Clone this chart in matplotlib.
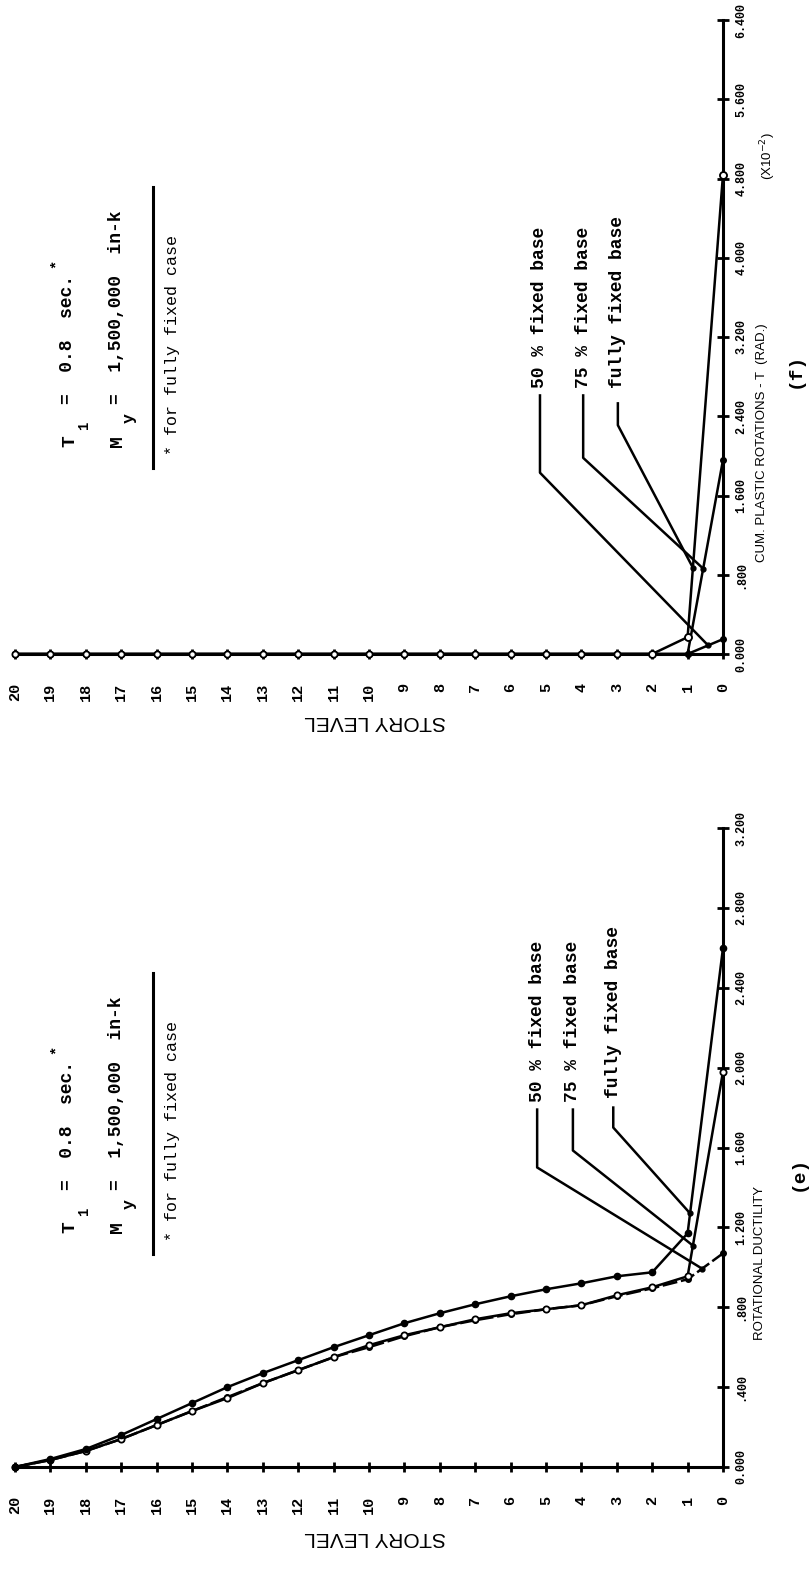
import numpy as np
import matplotlib
matplotlib.use("Agg")
import matplotlib.pyplot as plt

# ---------------- data ----------------
stories = list(range(20, -1, -1))  # 20 ... 0

# (e) rotational ductility
duct_fully = [0.00, 0.04, 0.09, 0.16, 0.24, 0.32, 0.40, 0.47, 0.535, 0.60, 0.66,
              0.72, 0.77, 0.815, 0.855, 0.89, 0.92, 0.955, 0.975, 1.17, 2.60]
duct_75 = [0.00, 0.035, 0.08, 0.14, 0.21, 0.28, 0.345, 0.42, 0.485, 0.55, 0.61,
           0.66, 0.70, 0.74, 0.77, 0.79, 0.81, 0.86, 0.90, 0.955, 1.98]
duct_50 = [0.00, 0.035, 0.08, 0.14, 0.21, 0.28, 0.35, 0.42, 0.485, 0.55, 0.60,
           0.655, 0.70, 0.735, 0.765, 0.79, 0.81, 0.855, 0.895, 0.94, 1.07]

# (f) cumulative plastic rotations (x10^-2 rad)
rot_fully = [0.0] * 19 + [0.17, 4.84]
rot_75 = [0.0] * 20 + [1.96]
rot_50 = [0.0] * 20 + [0.15]

duct_ticks = [0.0, 0.4, 0.8, 1.2, 1.6, 2.0, 2.4, 2.8, 3.2]
duct_ticklabels = ["0.000", ".400", ".800", "1.200", "1.600", "2.000", "2.400", "2.800", "3.200"]
rot_ticks = [0.0, 0.8, 1.6, 2.4, 3.2, 4.0, 4.8, 5.6, 6.4]
rot_ticklabels = ["0.000", ".800", "1.600", "2.400", "3.200", "4.000", "4.800", "5.600", "6.400"]

legend_labels = ["50 % fixed base", "75 % fixed base", "fully fixed base"]

# ---------------- figure ----------------
W, H = 809, 1574
fig = plt.figure(figsize=(W / 100, H / 100), dpi=100)
fig.patch.set_facecolor("white")

MONO = ["Liberation Mono", "DejaVu Sans Mono"]
SANS = ["Liberation Sans", "DejaVu Sans"]


def fx(px):
    return px / W


def fy(py):
    return 1 - py / H


def make_axes(y_zero_px, y_top_px, ymax, ticks, ticklabels):
    ax = fig.add_axes([fx(15), fy(y_zero_px), fx(723) - fx(15), fy(y_top_px) - fy(y_zero_px)])
    ax.set_xlim(20, 0)
    ax.set_ylim(0, ymax)
    for side in ("left", "top"):
        ax.spines[side].set_visible(False)
    for side in ("bottom", "right"):
        ax.spines[side].set_linewidth(2.2)
        ax.spines[side].set_color("black")
    ax.patch.set_alpha(0)
    ax.yaxis.tick_right()
    ax.set_xticks(stories)
    ax.set_xticklabels([str(s) for s in stories], rotation=90, fontsize=11,
                       fontweight="bold", family=MONO)
    ax.set_yticks(ticks)
    ax.set_yticklabels(ticklabels, rotation=90, fontsize=8.5, fontweight="bold",
                       family=MONO, va="center")
    ax.tick_params(axis="x", direction="inout", length=7, width=2, pad=17)
    ax.tick_params(axis="y", direction="inout", length=8, width=2, pad=5)
    return ax


ax_f = make_axes(654, 20, 6.4, rot_ticks, rot_ticklabels)
ax_e = make_axes(1467, 828, 3.2, duct_ticks, duct_ticklabels)

line_kw = dict(color="black", lw=1.8, clip_on=False, zorder=3)

# (e) curves
ax_e.plot(stories, duct_50, marker="o", ms=4, mfc="black", mec="black", ls=(0, (6, 1.5)), **line_kw)
ax_e.plot(stories, duct_75, marker="o", ms=4.5, mfc="white", mec="black", mew=1.3, **line_kw)
ax_e.plot(stories, duct_fully, marker="o", ms=4.5, mfc="black", mec="black", **line_kw)

# (f) curves
ax_f.plot(stories, rot_50, marker="o", ms=4, mfc="black", mec="black", **line_kw)
ax_f.plot(stories, rot_75, marker="o", ms=4, mfc="black", mec="black", **line_kw)
ax_f.plot(stories, rot_fully, marker="o", ms=4.5, mfc="white", mec="black", mew=1.3, **line_kw)
ax_f.plot(stories[-3:], rot_fully[-3:], marker="o", ms=5, mfc="white", mec="black", mew=1.3, ls="none",
          clip_on=False, zorder=4)


def leader(ax, label, s0, v_text, v_top, v_knee, s_end, series):
    v_end = np.interp(s_end, stories[::-1], series[::-1])
    ax.plot([s0, s0, s_end], [v_top, v_knee, v_end], color="black", lw=1.8,
            clip_on=False, zorder=3)
    ax.plot([s_end], [v_end], marker="o", ms=3.5, color="black", clip_on=False, zorder=4)
    ax.text(s0, v_text, label, rotation=90, rotation_mode="anchor", ha="left",
            va="center", fontsize=13, fontweight="bold", family=MONO, clip_on=False)


# legends with leaders, (e)
leader(ax_e, legend_labels[0], 5.25, 1.83, 1.79, 1.50, 0.59, duct_50)
leader(ax_e, legend_labels[1], 4.24, 1.83, 1.79, 1.585, 0.85, duct_75)
leader(ax_e, legend_labels[2], 3.10, 1.85, 1.80, 1.70, 0.93, duct_fully)

# legends with leaders, (f)
leader(ax_f, legend_labels[0], 5.17, 2.69, 2.61, 1.83, 0.42, rot_50)
leader(ax_f, legend_labels[1], 3.95, 2.69, 2.61, 1.98, 0.56, rot_75)
leader(ax_f, legend_labels[2], 2.97, 2.69, 2.53, 2.31, 0.85, rot_fully)


# parameter blocks
def param_block(dy):
    def t(px, py, s, size, weight="bold"):
        fig.text(fx(px), fy(py + dy), s, rotation=90, rotation_mode="anchor",
                 ha="left", va="center", fontsize=size, fontweight=weight, family=MONO)
    t(70, 447, "T", 14)
    t(84, 430, "1", 10)
    t(68, 404, "=  0.8  sec.", 13)
    t(56, 268, "*", 11)
    t(117, 447, "M", 14)
    t(129, 423, "y", 12)
    t(116, 404, "=  1,500,000  in-k", 13)
    fig.add_artist(plt.Line2D([fx(153), fx(153)], [fy(187 + dy), fy(468 + dy)],
                              color="black", lw=2.2))
    t(172, 455, "* for fully fixed case", 12, "normal")


param_block(0)
param_block(786)

# axis titles
for ypx in (722, 1537):
    fig.text(fx(375), fy(ypx), "STORY LEVEL", rotation=180, ha="center", va="center",
             fontsize=15, family=SANS)

fig.text(fx(760), fy(1340), "ROTATIONAL DUCTILITY", rotation=90, rotation_mode="anchor",
         ha="left", va="center", fontsize=9.5, family=SANS)
fig.text(fx(798), fy(1173), "(e)", rotation=90, rotation_mode="anchor",
         ha="center", va="center", fontsize=14, fontweight="bold", family=MONO)

fig.text(fx(762), fy(562), "CUM. PLASTIC ROTATIONS - T  (RAD.)", rotation=90,
         rotation_mode="anchor", ha="left", va="center", fontsize=9.5, family=SANS)
fig.text(fx(768), fy(180), r"(X10$^{-2}$)", rotation=90, rotation_mode="anchor",
         ha="left", va="center", fontsize=9.5, family=SANS)
fig.text(fx(795), fy(370), "(f)", rotation=90, rotation_mode="anchor",
         ha="center", va="center", fontsize=14, fontweight="bold", family=MONO)

fig.savefig("out.png", dpi=100, facecolor="white")
